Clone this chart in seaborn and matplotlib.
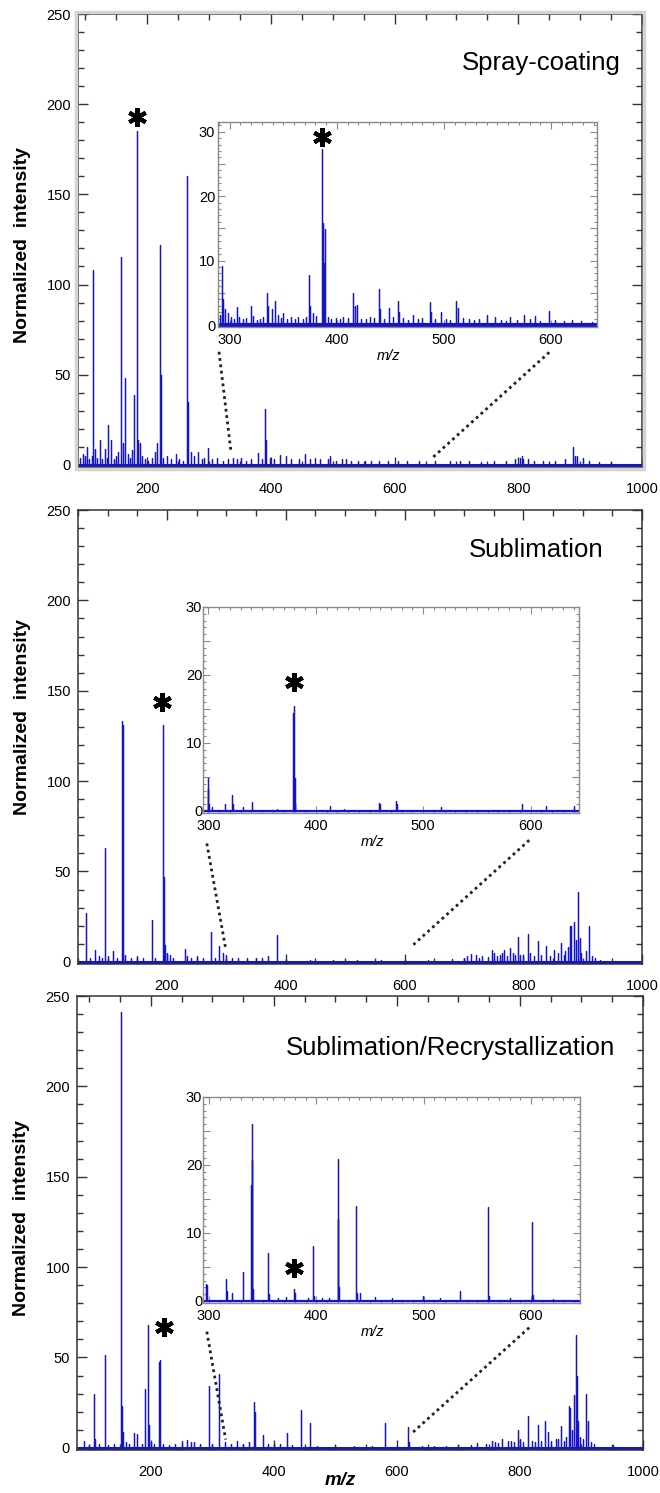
import numpy as np
import pandas as pd
import matplotlib
matplotlib.use("Agg")
import matplotlib.pyplot as plt
import seaborn as sns
from matplotlib.ticker import MultipleLocator, FuncFormatter
from matplotlib.patches import Rectangle

# ---- data ----
titles = ["Spray-coating", "Sublimation", "Sublimation/Recrystallization"]
main_xlims = [(88, 1000), (50, 1000), (80, 1000)]
inset_xlims = [(289, 643), (295, 645), (294.4, 645.6)]
inset_ylims = [(-0.3, 31.5), (-0.3, 30), (-0.3, 30)]

# panel 1, full spectrum
p1_mz = [102, 113, 116, 123, 137, 141, 158, 160, 164, 179, 183.5, 185, 188, 215, 221, 222,
         265, 266, 270, 298, 379, 391, 392, 414, 492, 802, 806, 889, 891]
p1_int = [10, 108, 9, 14, 22, 14, 115, 12, 48, 39, 185, 14, 12, 12, 122, 50,
          160, 35, 7, 9.6, 6.4, 31, 14, 5.5, 3, 4, 5, 10, 5]
p1_noise_mz = [92, 96, 100, 105, 110, 118, 127, 131, 135, 146, 150, 153, 169, 172, 176, 192, 196,
               201, 208, 212, 226, 232, 238, 246, 252, 258, 276, 282, 288, 292, 305, 313, 322,
               330, 338, 345, 352, 360, 368, 385, 398, 405, 425, 433, 446, 455, 463, 472, 480,
               496, 505, 515, 522, 530, 540, 552, 562, 575, 590, 605, 620, 640, 665, 690, 705,
               720, 740, 760, 780, 795, 808, 815, 825, 840, 860, 875, 895, 905, 915, 930, 950]
p1_noise_int = [4, 6, 5, 3, 5, 4, 3, 9, 4, 3, 5, 7, 6, 4, 8, 5, 3,
                2, 4, 7, 4, 5, 3, 6, 3, 2, 5, 7, 3, 4, 3, 4, 2,
                3, 4, 3, 4, 2, 3, 3, 4, 3, 5, 3, 3, 6, 3, 4, 3,
                5, 2, 3, 3, 2, 2, 2, 2, 2, 2, 2, 2, 2, 2, 2, 2,
                2, 1.5, 2, 2, 3, 3, 3, 2, 2, 2, 3, 5, 4, 2, 1.5, 1.5]

# panel 1, inset 290-645
i1_mz = [293, 294, 296, 306.5, 319.5, 335, 336, 339, 342.6, 350, 374, 375, 386.5, 387.5, 388,
         389, 415.5, 416.5, 419, 439, 440, 449, 457, 458, 471, 487, 488, 497.6, 511.5, 513.6,
         540, 548, 562, 575, 585, 598, 620]
i1_int = [9.1, 4, 2.5, 2.8, 3.0, 5.0, 3, 2.5, 3.7, 1.8, 7.8, 3, 27.3, 15.9, 9.6,
          14.9, 4.9, 3, 3.1, 5.6, 2.5, 2.6, 3.7, 2, 1.5, 3.6, 2, 2.1, 3.8, 2.6,
          1.5, 1.2, 1.3, 1.5, 1.4, 2.2, 0.8]
i1_noise_mz = [291, 298, 301, 304, 309, 312, 315, 322, 325, 328, 331, 345, 348, 353, 357, 361,
               364, 368, 371, 378, 381, 392, 395, 399, 403, 406, 410, 423, 427, 431, 435, 444,
               452, 462, 466, 476, 480, 492, 502, 506, 518, 523, 528, 533, 553, 558, 568, 580,
               590, 604, 612, 628, 638]
i1_noise_int = [1.5, 1.8, 1.2, 1.0, 1.3, 0.9, 1.1, 1.4, 0.8, 1.0, 1.2, 1.6, 1.1, 0.9, 1.2, 1.0,
                1.3, 0.9, 1.2, 1.8, 1.4, 1.2, 0.9, 1.1, 1.0, 1.3, 1.1, 1.0, 0.9, 1.2, 1.1, 1.0,
                1.2, 1.1, 0.8, 0.9, 1.1, 1.0, 0.9, 0.8, 1.1, 0.9, 0.8, 1.0, 0.8, 0.7, 0.8, 0.9,
                0.7, 0.8, 0.6, 0.6, 0.5]

# panel 2, full spectrum
p2_mz = [63, 79, 96, 109, 124, 125, 126, 174, 193, 194, 195, 196, 230, 233, 274, 280, 288,
         300, 320, 350, 385, 386, 700, 712, 720, 730, 748, 750, 768, 778, 791, 795, 808, 812,
         824, 838, 852, 863, 868, 879, 881, 885, 892, 893, 895, 910, 911, 915]
p2_int = [27, 6.8, 63, 6, 133, 131, 17, 23, 115.6, 131, 47, 9.5, 7.3, 3, 16.5, 2, 8.6,
          4, 2, 2, 15, 12, 2.2, 4.6, 4, 3, 6.8, 5, 6.8, 7.7, 14, 4, 15.5, 5,
          11.3, 8.6, 6.8, 10.4, 4, 19.6, 19.6, 21.8, 38.8, 29, 13, 20, 13, 3]
p2_noise_mz = [70, 85, 90, 100, 115, 130, 140, 150, 160, 180, 200, 205, 210, 240, 250, 260,
               295, 310, 335, 360, 370, 400, 440, 480, 520, 560, 600, 640, 680, 705, 725, 740,
               755, 760, 765, 772, 782, 786, 800, 818, 830, 845, 858, 870, 876, 888, 898, 905,
               920, 930]
p2_noise_int = [2, 3, 2, 3, 2, 4, 2, 3, 2, 2, 5, 4, 2, 2, 3, 2,
                5, 2, 2, 2, 3, 1.5, 1, 1, 1, 1, 1, 1, 1.5, 3, 2, 2.5,
                3, 4, 5, 3, 5, 4, 3, 3, 4, 3, 5, 6, 8, 12, 5, 6,
                2, 1]

# panel 2, inset
i2_mz = [299.4, 300, 301, 303, 315.4, 321.7, 322.5, 332, 341, 364, 379, 379.6, 380.3, 381,
         413, 426, 458.6, 459.5, 475, 476, 517, 592, 614, 640]
i2_int = [4.9, 3.3, 1.0, 0.6, 1.0, 2.4, 1.0, 0.6, 1.3, 0.3, 14.4, 15.5, 4.9, 1.0,
          0.7, 0.3, 1.1, 1.0, 1.4, 1.0, 0.6, 1.0, 0.8, 0.8]

# panel 3, full spectrum
p3_mz = [92, 108, 109, 125.5, 151.5, 152, 153, 154, 173, 178, 190, 195.5, 197, 212.5, 213,
         215, 250, 258, 265, 294, 295, 310.7, 340, 368, 369, 383, 400, 421, 443.5, 459,
         580, 618.4, 620, 700, 730, 755, 770, 780, 797, 800, 813, 820, 829, 840.5, 845, 858,
         867, 872, 879, 882, 888, 891, 892, 894, 908, 910, 915, 951]
p3_int = [3.7, 30, 5, 51.6, 138, 241, 23, 9, 8, 7.7, 32.6, 67.8, 12.8, 47.6, 12.8,
          48.5, 3.7, 4.6, 3, 34.4, 5, 40.7, 3.7, 25.6, 20, 7, 2, 8.2, 21, 14,
          13.7, 11.7, 3, 1.8, 2.5, 3.7, 5, 4, 10, 5, 17.4, 4, 12.8, 14.6, 9, 5,
          12, 4, 23, 22, 29, 62.3, 40, 14.6, 29.7, 14.6, 3, 1.8]
p3_noise_mz = [100, 115, 130, 140, 160, 165, 185, 200, 205, 220, 230, 240, 270, 280, 300, 320,
               330, 350, 360, 390, 410, 430, 470, 500, 530, 560, 600, 640, 660, 680, 720, 745,
               760, 765, 785, 790, 805, 825, 835, 850, 862, 875, 885, 898, 903, 920]
p3_noise_int = [1.5, 2, 1.5, 2, 3, 2, 2, 3, 2, 2, 1.5, 2, 3, 2, 2, 3,
                2, 2, 3, 2, 2, 1.5, 1, 1, 1, 1, 1, 1, 1, 1, 1.5, 2,
                3, 2.5, 4, 3, 3, 3, 4, 4, 5, 6, 10, 6, 5, 2]

# panel 3, inset
i3_mz = [297.4, 298.3, 316, 317, 321, 332, 339, 339.6, 340.2, 341, 355, 356, 364, 372, 379.5,
         380.2, 392, 397, 398, 405, 412, 420, 420.4, 421, 436.5, 437.5, 441, 455, 470, 499,
         515, 533.5, 560, 561, 580, 601, 602, 620]
i3_int = [2.55, 2.3, 3.3, 1.5, 1.2, 4.3, 17, 20.8, 26, 1.8, 7.0, 1.0, 0.5, 0.6, 1.7,
          1.2, 0.5, 8.1, 0.7, 0.5, 0.4, 20.9, 12.1, 2, 14, 1.2, 1.2, 0.6, 0.4, 0.8,
          0.4, 1.4, 13.8, 0.8, 0.4, 11.6, 0.9, 0.3]

# asterisk positions (m/z, intensity) : main, inset
star_main = [(183.5, 193), (191, 144), (222, 67)]
star_inset = [(386, 29.2), (380, 18.9), (379.5, 4.9)]

# dotted zoom guides in main-axes data coords: (x0, y0, x1, y1)
guides = [
    [(316, 62.7, 335, 8.4), (850, 62.4, 661, 3.9)],
    [(267, 65.5, 299, 6.8), (810, 67.3, 615, 9.5)],
    [(291, 64.3, 321.6, 4.6), (815, 66.5, 625, 8.3)],
]

title_pos = [(0.962, 0.892), (0.932, 0.912), (0.95, 0.885)]
ylabel_y = [0.49, 0.545, 0.51]
inset_base_lw = [3.0, 1.6, 1.6]

BLUE = "#1414cc"


def stick_frame(xrange, *pairs):
    mz = []
    inten = []
    for m, h in pairs:
        mz += list(m)
        inten += list(h)
    order = np.argsort(mz)
    xs = [xrange[0]]
    ys = [0.0]
    for k in order:
        xs += [mz[k], mz[k], mz[k]]
        ys += [0.0, inten[k], 0.0]
    xs.append(xrange[1])
    ys.append(0.0)
    return pd.DataFrame({"mz": xs, "intensity": ys})


def baseline_frame(xrange):
    return pd.DataFrame({"mz": list(xrange), "intensity": [0.0, 0.0]})


main_data = [
    stick_frame(main_xlims[0], (p1_mz, p1_int), (p1_noise_mz, p1_noise_int)),
    stick_frame(main_xlims[1], (p2_mz, p2_int), (p2_noise_mz, p2_noise_int)),
    stick_frame(main_xlims[2], (p3_mz, p3_int), (p3_noise_mz, p3_noise_int)),
]
inset_data = [
    stick_frame(inset_xlims[0], (i1_mz, i1_int), (i1_noise_mz, i1_noise_int)),
    stick_frame(inset_xlims[1], (i2_mz, i2_int)),
    stick_frame(inset_xlims[2], (i3_mz, i3_int)),
]

sns.set_style("ticks")
plt.rcParams["font.family"] = ["Liberation Sans", "DejaVu Sans"]
plt.rcParams["text.color"] = "black"
plt.rcParams["axes.labelcolor"] = "black"
plt.rcParams["xtick.labelcolor"] = "black"
plt.rcParams["ytick.labelcolor"] = "black"

fig = plt.figure(figsize=(6.6, 14.93), dpi=100)

main_boxes = [
    [78 / 660, (1493 - 467) / 1493, 564 / 660, 453 / 1493],
    [78 / 660, (1493 - 964) / 1493, 564 / 660, 454 / 1493],
    [77 / 660, (1493 - 1450) / 1493, 566 / 660, 454 / 1493],
]
inset_boxes = [
    [218 / 660, (1493 - 327) / 1493, 379 / 660, 205 / 1493],
    [203 / 660, (1493 - 813) / 1493, 376 / 660, 206 / 1493],
    [203 / 660, (1493 - 1303) / 1493, 377 / 660, 206 / 1493],
]

# light grey frame around first panel
b = main_boxes[0]
fig.patches.append(Rectangle((b[0] - 2 / 660, b[1] - 2 / 1493), b[2] + 4 / 660, b[3] + 4 / 1493,
                             transform=fig.transFigure, fill=False, edgecolor="#d4d4d4",
                             linewidth=2.5, zorder=0))

for i in range(3):
    ax = fig.add_axes(main_boxes[i])
    sns.lineplot(data=main_data[i], x="mz", y="intensity", sort=False, estimator=None,
                 color=BLUE, linewidth=0.9, ax=ax)
    sns.lineplot(data=baseline_frame(main_xlims[i]), x="mz", y="intensity", color=BLUE,
                 linewidth=2.2, ax=ax)
    ax.set_xlim(*main_xlims[i])
    ax.set_ylim(-1.2, 250)
    ax.xaxis.set_major_locator(MultipleLocator(200))
    ax.xaxis.set_minor_locator(MultipleLocator(50))
    ax.yaxis.set_major_locator(MultipleLocator(50))
    ax.yaxis.set_minor_locator(MultipleLocator(10))
    ax.tick_params(which="both", direction="in", top=True, right=True, color="#333333",
                   width=1.0)
    ax.tick_params(which="major", length=7, labelsize=10.5)
    ax.tick_params(which="minor", length=4)
    ax.tick_params(axis="x", which="major", pad=11)
    ax.tick_params(axis="y", which="major", pad=5)
    for s in ax.spines.values():
        s.set_color("#333333")
        s.set_linewidth(1.1)
    ax.set_ylabel("Normalized  intensity", fontsize=14, fontweight="bold")
    ax.yaxis.set_label_coords(-0.098, ylabel_y[i])
    ax.yaxis.label.set_va("center")
    if i == 2:
        ax.set_xlabel("m/z", fontsize=13.5, fontweight="bold", style="italic")
        ax.xaxis.set_label_coords(0.465, -0.068)
        ax.xaxis.label.set_va("center")
    else:
        ax.set_xlabel("")
    ax.text(title_pos[i][0], title_pos[i][1], titles[i], transform=ax.transAxes,
            ha="right", va="center", fontsize=18.5)
    ax.plot([star_main[i][0]], [star_main[i][1]], marker=(6, 2, 0), markersize=13.5,
            markeredgewidth=3, color="black", linestyle="none")
    for x0, y0, x1, y1 in guides[i]:
        ax.plot([x0, x1], [y0, y1], linestyle=(0, (1, 1.3)), color="#222222", linewidth=2)

    ins = fig.add_axes(inset_boxes[i])
    sns.lineplot(data=inset_data[i], x="mz", y="intensity", sort=False, estimator=None,
                 color=BLUE, linewidth=0.9, ax=ins)
    sns.lineplot(data=baseline_frame(inset_xlims[i]), x="mz", y="intensity", color=BLUE,
                 linewidth=inset_base_lw[i], ax=ins)
    ins.set_xlim(*inset_xlims[i])
    ins.set_ylim(*inset_ylims[i])
    ins.xaxis.set_major_locator(MultipleLocator(100))
    ins.xaxis.set_minor_locator(MultipleLocator(10))
    ins.yaxis.set_major_locator(MultipleLocator(5))
    ins.yaxis.set_minor_locator(MultipleLocator(1))
    ins.yaxis.set_major_formatter(FuncFormatter(lambda v, p: f"{v:.0f}" if v % 10 == 0 else ""))
    ins.tick_params(which="both", direction="in", top=True, right=True, color="#8a8a8a",
                    width=0.8)
    ins.tick_params(which="major", length=5, labelsize=10.5)
    ins.tick_params(which="minor", length=2.5)
    ins.tick_params(axis="x", which="major", pad=4)
    ins.tick_params(axis="y", which="major", pad=2 if i == 0 else 0.5)
    for s in ins.spines.values():
        s.set_color("#8a8a8a")
        s.set_linewidth(1.0)
    ins.set_ylabel("")
    ins.set_xlabel("m/z", fontsize=10.5, style="italic")
    ins.xaxis.set_label_coords(0.45, -0.14)
    ins.xaxis.label.set_va("center")
    ins.plot([star_inset[i][0]], [star_inset[i][1]], marker=(6, 2, 0), markersize=13.5,
             markeredgewidth=3, color="black", linestyle="none")

fig.savefig("out.png", dpi=100)
